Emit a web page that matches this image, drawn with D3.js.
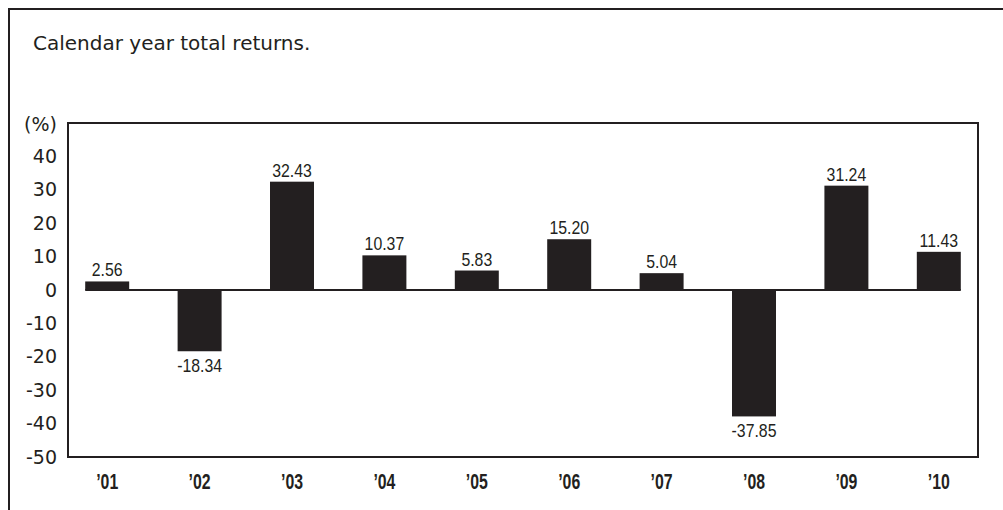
<!DOCTYPE html>
<html>
<head>
<meta charset="utf-8">
<script src="https://cdn.jsdelivr.net/npm/d3@7"></script>
<style>
    html, body { margin: 0; padding: 0; background: #fff; }
    svg { display: block; }
</style>
</head>
<body>
<svg id="chart" width="1003" height="510"></svg>
<script>
// Data
const years = ["\u201901", "\u201902", "\u201903", "\u201904", "\u201905", "\u201906", "\u201907", "\u201908", "\u201909", "\u201910"];
const returns = [2.56, -18.34, 32.43, 10.37, 5.83, 15.20, 5.04, -37.85, 31.24, 11.43];
const yTicks = [40, 30, 20, 10, 0, -10, -20, -30, -40, -50];

const ink = "#231f20";
const wideFont = "'DejaVu Sans', sans-serif";
const narrowFont = "'Liberation Sans', Arial, sans-serif";

const svg = d3.select("#chart");

// Plot box
const box = { left: 68, top: 123, right: 978, bottom: 457 };

const y = d3.scaleLinear().domain([-50, 50]).range([box.bottom, box.top]);
const x = d3.scaleBand().domain(years).range([61, 985])
    .paddingInner(0.524).paddingOuter(0.262);

// Outer frame (runs off the right and bottom edges)
svg.append("path")
    .attr("d", "M1010,9 H9 V520")
    .attr("fill", "none")
    .attr("stroke", ink)
    .attr("stroke-width", 2);

// Title
svg.append("text")
    .attr("x", 33)
    .attr("y", 50)
    .style("font-family", wideFont)
    .style("font-size", "20px")
    .style("fill", ink)
    .text("Calendar year total returns.");

// Plot frame
svg.append("rect")
    .attr("x", box.left)
    .attr("y", box.top)
    .attr("width", box.right - box.left)
    .attr("height", box.bottom - box.top)
    .attr("fill", "none")
    .attr("stroke", ink)
    .attr("stroke-width", 2);

// Y axis labels (plain hyphen like the original)
const yAxis = d3.axisLeft(y).tickValues(yTicks).tickSize(0).tickPadding(0)
    .tickFormat(d => String(d));
const yg = svg.append("g")
    .attr("transform", `translate(57,0)`)
    .call(yAxis);
yg.select(".domain").remove();
yg.selectAll("text")
    .style("font-family", wideFont)
    .style("font-size", "19px")
    .style("fill", ink);

svg.append("text")
    .attr("x", 57)
    .attr("y", y(50) + 2)
    .attr("dy", "0.32em")
    .attr("text-anchor", "end")
    .style("font-family", wideFont)
    .style("font-size", "19px")
    .style("fill", ink)
    .text("(%)");

// Bars
svg.selectAll(".bar")
    .data(returns)
    .enter().append("rect")
    .attr("class", "bar")
    .attr("x", (d, i) => x(years[i]))
    .attr("y", d => y(Math.max(0, d)))
    .attr("width", x.bandwidth())
    .attr("height", d => Math.abs(y(d) - y(0)))
    .attr("fill", ink);

// Zero line
svg.append("line")
    .attr("x1", x(years[0]))
    .attr("x2", x(years[years.length - 1]) + x.bandwidth())
    .attr("y1", y(0))
    .attr("y2", y(0))
    .attr("stroke", ink)
    .attr("stroke-width", 2);

// Value labels (condensed by horizontal scaling)
svg.selectAll(".val")
    .data(returns)
    .enter().append("text")
    .attr("class", "val")
    .attr("transform", (d, i) => {
        const cx = x(years[i]) + x.bandwidth() / 2;
        const cy = d >= 0 ? y(d) - 5 : y(d) + 21;
        return `translate(${cx},${cy}) scale(0.88,1)`;
    })
    .attr("text-anchor", "middle")
    .style("font-family", narrowFont)
    .style("font-size", "18px")
    .style("fill", ink)
    .text(d => d.toFixed(2));

// X axis labels
const xAxis = d3.axisBottom(x).tickSize(0).tickPadding(0);
const xg = svg.append("g")
    .attr("transform", `translate(0,${box.bottom})`)
    .call(xAxis);
xg.select(".domain").remove();
xg.selectAll("text")
    .attr("y", 0)
    .attr("dy", null)
    .attr("transform", "translate(0,32) scale(0.72,1)")
    .style("font-family", narrowFont)
    .style("font-weight", "bold")
    .style("font-size", "22px")
    .style("fill", ink);
</script>
</body>
</html>
